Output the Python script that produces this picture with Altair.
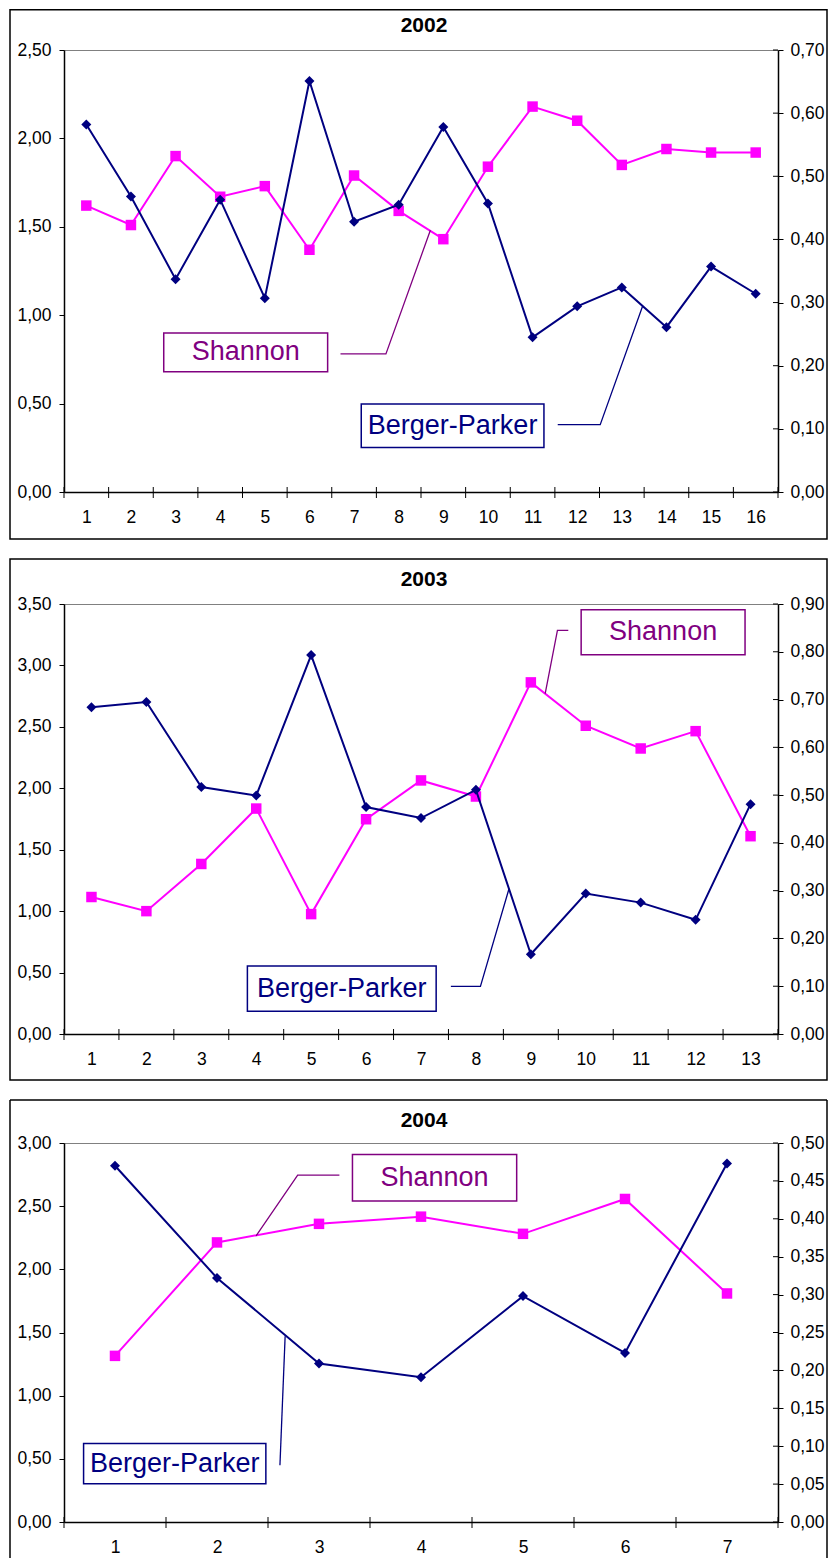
import altair as alt
import pandas as pd

FONT = "Liberation Sans"
MAGENTA = "#FF00FF"
NAVY = "#000080"
PURPLE = "#800080"

# ---------------- data ----------------
years = ["2002", "2003", "2004"]

shannon_2002 = [1.62, 1.51, 1.90, 1.67, 1.73, 1.37, 1.79, 1.59, 1.43, 1.84, 2.18, 2.10, 1.85, 1.94, 1.92, 1.92]
bp_2002 = [0.582, 0.468, 0.337, 0.463, 0.307, 0.651, 0.428, 0.455, 0.578, 0.457, 0.245, 0.294, 0.324, 0.261, 0.357, 0.314]

shannon_2003 = [1.115, 1.00, 1.384, 1.835, 0.976, 1.748, 2.064, 1.933, 2.862, 2.509, 2.324, 2.465, 1.610]
bp_2003 = [0.684, 0.695, 0.517, 0.499, 0.793, 0.475, 0.452, 0.511, 0.167, 0.294, 0.275, 0.239, 0.481]

shannon_2004 = [1.315, 2.213, 2.360, 2.417, 2.281, 2.557, 1.809]
bp_2004 = [0.470, 0.322, 0.209, 0.191, 0.298, 0.223, 0.473]

left_ticks_2002 = [0, 0.5, 1.0, 1.5, 2.0, 2.5]
right_ticks_2002 = [0, 0.1, 0.2, 0.3, 0.4, 0.5, 0.6, 0.7]
left_ticks_2003 = [0, 0.5, 1.0, 1.5, 2.0, 2.5, 3.0, 3.5]
right_ticks_2003 = [0, 0.1, 0.2, 0.3, 0.4, 0.5, 0.6, 0.7, 0.8, 0.9]
left_ticks_2004 = [0, 0.5, 1.0, 1.5, 2.0, 2.5, 3.0]
right_ticks_2004 = [0, 0.05, 0.1, 0.15, 0.2, 0.25, 0.3, 0.35, 0.4, 0.45, 0.5]

series_names = ["Shannon", "Berger-Parker"]

# annotation boxes / leader lines in data units (x: category, y: left axis)
ann_2002 = {
    "Shannon": dict(box=(2.735, 6.408, 0.680, 0.899), leader=[(6.696, 0.781), (7.714, 0.781), (8.71, 1.48)]),
    "Berger-Parker": dict(box=(7.161, 11.255, 0.251, 0.498), leader=[(11.564, 0.381), (12.516, 0.381), (13.467, 1.052)]),
}
ann_2003 = {
    "Shannon": dict(box=(9.916, 12.90, 3.087, 3.454), leader=[(9.682, 3.286), (9.484, 3.286), (9.261, 2.77)]),
    "Berger-Parker": dict(box=(3.839, 7.276, 0.186, 0.553), leader=[(7.544, 0.387), (8.082, 0.387), (8.601, 1.18)]),
}
ann_2004 = {
    "Shannon": dict(box=(3.328, 4.938, 2.541, 2.909), leader=[(3.200, 2.746), (2.791, 2.746), (2.383, 2.265)]),
    "Berger-Parker": dict(box=(0.692, 2.479, 0.302, 0.622), leader=[(2.617, 0.449), (2.668, 1.47)]),
}

COMMA = "replace(format(datum.value, '.2f'), '.', ',')"
LABEL_SIZE = 17.5


def panel(year, shannon, bp, lticks, rticks, ann, width, height,
          rect_top, rect_bottom, title_y, closed=True):
    n = len(shannon)
    cats = list(range(1, n + 1))
    df = pd.DataFrame({"cat": cats, "shannon": shannon, "bp": bp})
    lmax, rmax = lticks[-1], rticks[-1]

    xs = alt.Scale(domain=[0.5, n + 0.5], nice=False, zero=False)
    ly = alt.Scale(domain=[0, lmax], nice=False, zero=True)
    ry = alt.Scale(domain=[0, rmax], nice=False, zero=True)

    xaxis = alt.Axis(values=cats, format="d", tickSize=0, labelPadding=16.5,
                     labelFlush=False, grid=False, title=None,
                     domainColor="black", domainWidth=1.5, labelAngle=0)
    lyaxis = alt.Axis(values=lticks, labelExpr=COMMA, tickSize=5, labelPadding=8,
                      grid=False, title=None, domainColor="black", domainWidth=1.5)
    ryaxis = alt.Axis(values=rticks, labelExpr=COMMA, tickSize=5, labelPadding=7,
                      grid=False, title=None, orient="right",
                      domainColor="black", domainWidth=1.5)

    def X(f):
        return alt.X(f, scale=xs, axis=xaxis)

    def YL(f):
        return alt.Y(f, scale=ly, axis=lyaxis)

    def YR(f):
        return alt.Y(f, scale=ry, axis=ryaxis)

    base = alt.Chart(df)
    sh_line = base.mark_line(color=MAGENTA, strokeWidth=2).encode(x=X("cat:Q"), y=YL("shannon:Q"))
    sh_pts = base.mark_point(shape="square", size=110, filled=True, color=MAGENTA, opacity=1).encode(
        x=X("cat:Q"), y=YL("shannon:Q"))

    # category-boundary ticks on the x axis (crossing the axis line)
    tdf = pd.DataFrame({"t": [i + 0.5 for i in range(0, n + 1)]})
    xticks = alt.Chart(tdf).mark_rule(color="black", strokeWidth=1).encode(
        x=X("t:Q"), y=alt.value(height - 5), y2=alt.value(height + 6))

    # annotations
    rows, lrows = [], []
    for name in series_names:
        a = ann[name]
        x1, x2, y1, y2 = a["box"]
        rows.append(dict(name=name, x1=x1, x2=x2, y1=y1, y2=y2,
                         xc=(x1 + x2) / 2, yc=(y1 + y2) / 2))
        for i, (lx, lyv) in enumerate(a["leader"]):
            lrows.append(dict(name=name, lx=lx, ly=lyv, o=i))
    adf = pd.DataFrame(rows)
    ldf = pd.DataFrame(lrows)
    cscale = alt.Scale(domain=series_names, range=[PURPLE, NAVY])

    leaders = alt.Chart(ldf).mark_line(strokeWidth=1.3).encode(
        x=X("lx:Q"), y=YL("ly:Q"), order="o:Q",
        color=alt.Color("name:N", scale=cscale, legend=None))
    boxes = alt.Chart(adf).mark_rect(fill="white", strokeWidth=1.5).encode(
        x=X("x1:Q"), x2="x2:Q", y=YL("y1:Q"), y2="y2:Q",
        stroke=alt.Color("name:N", scale=cscale, legend=None))
    texts = alt.Chart(adf).mark_text(font=FONT, fontSize=27, baseline="middle", align="center").encode(
        x=X("xc:Q"), y=YL("yc:Q"), text="name:N",
        color=alt.Color("name:N", scale=cscale, legend=None))

    one = pd.DataFrame({"title": [year]})
    title = alt.Chart(one).mark_text(font=FONT, fontSize=21, fontWeight="bold",
                                     align="center", baseline="alphabetic", color="black").encode(
        x=alt.value(width / 2 + 3), y=alt.value(title_y), text="title:N")

    L, R = -54, 763
    if closed:
        frame = alt.Chart(one).mark_rect(fillOpacity=0, stroke="black", strokeWidth=1.5).encode(
            x=alt.value(L), x2=alt.value(R), y=alt.value(rect_top), y2=alt.value(rect_bottom))
        frames = [frame]
    else:
        fr_top = alt.Chart(one).mark_rule(color="black", strokeWidth=1.5).encode(
            x=alt.value(L), x2=alt.value(R), y=alt.value(rect_top))
        fr_left = alt.Chart(one).mark_rule(color="black", strokeWidth=1.5).encode(
            x=alt.value(L), y=alt.value(rect_top), y2=alt.value(rect_bottom))
        fr_right = alt.Chart(one).mark_rule(color="black", strokeWidth=1.5).encode(
            x=alt.value(R), y=alt.value(rect_top), y2=alt.value(rect_bottom))
        frames = [fr_top, fr_left, fr_right]

    left = alt.layer(sh_line, sh_pts, xticks, leaders, boxes, texts, title, *frames)

    bp_line = base.mark_line(color=NAVY, strokeWidth=2).encode(x=X("cat:Q"), y=YR("bp:Q"))
    bp_pts = base.mark_point(shape="diamond", size=100, filled=True, color=NAVY, opacity=1).encode(
        x=X("cat:Q"), y=YR("bp:Q"))
    # inner half of the crossing ticks on the secondary axis
    rdf = pd.DataFrame({"rt": rticks})
    rticks_in = alt.Chart(rdf).mark_rule(color="black", strokeWidth=1).encode(
        y=YR("rt:Q"), x=alt.value(width - 5), x2=alt.value(width))
    right = alt.layer(bp_line, bp_pts, rticks_in)

    return alt.layer(left, right).resolve_scale(y="independent").properties(
        width=width, height=height)


p1 = panel(years[0], shannon_2002, bp_2002, left_ticks_2002, right_ticks_2002, ann_2002,
           714, 442, -40.25, 489, -18)
p2 = panel(years[1], shannon_2003, bp_2003, left_ticks_2003, right_ticks_2003, ann_2003,
           714, 430, -45, 476, -18)
p3 = panel(years[2], shannon_2004, bp_2004, left_ticks_2004, right_ticks_2004, ann_2004,
           714, 379, -43, 415, -16, closed=False)

chart = alt.vconcat(p1, p2, p3, spacing=16).properties(
    padding=0, background="white"
).configure_view(
    stroke="#808080", strokeWidth=1
).configure_axis(
    labelFont=FONT, labelFontSize=LABEL_SIZE, labelColor="black",
    tickColor="black", domainColor="black"
)

chart.save("out.html", embed_options={"renderer": "svg", "actions": False})
